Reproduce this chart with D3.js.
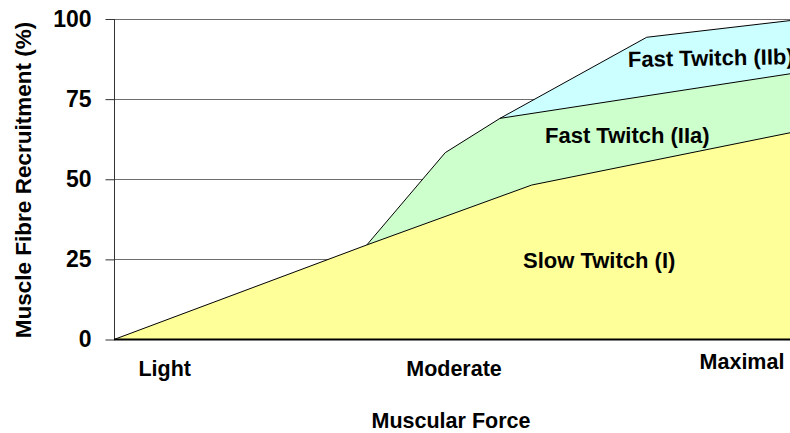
<!DOCTYPE html>
<html><head><meta charset="utf-8">
<script src="https://cdn.jsdelivr.net/npm/d3@7"></script>
<style>
html,body{margin:0;padding:0;background:#fff;}
svg text{font-family:"Liberation Sans",Arial,sans-serif;font-weight:bold;fill:#000;}
</style></head>
<body><svg id="c" width="790" height="433"></svg>
<script>
// Data
const yTicks = [0, 25, 50, 75, 100];
const categories = ["Light", "Moderate", "Maximal"];
const slowForce = [0, 37.4, 61.8, 100];
const slowPct   = [0, 29.5, 48.2, 64.5];
const iiaForce  = [37.4, 49.0, 57.1, 100];
const iiaPct    = [29.5, 58.3, 69.0, 82.9];
const iibForce  = [57.1, 78.8, 100];
const iibPct    = [69.0, 94.3, 99.5];
const seriesNames = ["Slow Twitch (I)", "Fast Twitch (IIa)", "Fast Twitch (IIb)"];

const svg = d3.select("#c");
const x = d3.scaleLinear().domain([0, 100]).range([114, 790]);
const y = d3.scaleLinear().domain([0, 100]).range([339.5, 19]);

// gridlines
svg.append("g").selectAll("line").data(yTicks.filter(d => d > 0)).join("line")
  .attr("x1", 114).attr("x2", 790)
  .attr("y1", d => Math.round(y(d)) + 0.5).attr("y2", d => Math.round(y(d)) + 0.5)
  .attr("stroke", "#6e6e6e").attr("stroke-width", 1);

const mk = (f, p) => f.map((v, i) => [v, p[i]]);
const series = [
  {pts: mk(iibForce, iibPct), fill: "#CCFFFF"},
  {pts: mk(iiaForce, iiaPct), fill: "#CCFFCC"},
  {pts: mk(slowForce, slowPct), fill: "#FFFF99"}
];
const area = d3.area().x(d => x(d[0])).y0(y(0)).y1(d => y(d[1]));
const line = d3.line().x(d => x(d[0])).y(d => y(d[1]));
svg.append("g").selectAll("path").data(series).join("path")
  .attr("d", d => area(d.pts)).attr("fill", d => d.fill);
svg.append("g").selectAll("path").data(series).join("path")
  .attr("d", d => line(d.pts)).attr("fill", "none").attr("stroke", "#000").attr("stroke-width", 1);

// y axis
const yAxis = d3.axisLeft(y).tickValues(yTicks).tickSize(9).tickPadding(14);
const ga = svg.append("g").attr("transform", "translate(114.5,0)").call(yAxis);
ga.select(".domain").attr("stroke", "#333").attr("d", `M0,${y(100)}V${y(0)}`);
ga.selectAll(".tick line").attr("stroke", "#333");
ga.selectAll(".tick text").style("font-size", "23px").attr("fill", "#000");
// x baseline
svg.append("line").attr("x1", 114).attr("x2", 790).attr("y1", y(0)).attr("y2", y(0))
  .attr("stroke", "#000").attr("stroke-width", 2);

// category labels
const catX = [7.5, 50.3, 92.9], catY = [376, 376, 369];
svg.append("g").selectAll("text").data(categories).join("text")
  .attr("x", (d, i) => x(catX[i])).attr("y", (d, i) => catY[i])
  .attr("text-anchor", "middle").style("font-size", "21.5px").text(d => d);

// series labels
const lab = [
  {t: seriesNames[0], x: 523, y: 268, r: 0},
  {t: seriesNames[1], x: 545, y: 143, r: 0},
  {t: seriesNames[2], x: 628, y: 67, r: -1}
];
svg.append("g").selectAll("text").data(lab).join("text")
  .attr("transform", d => `translate(${d.x},${d.y}) rotate(${d.r})`)
  .style("font-size", "22px").text(d => d.t);

// axis titles
svg.append("text").attr("x", 451).attr("y", 428).attr("text-anchor", "middle")
  .style("font-size", "21.5px").text("Muscular Force");
svg.append("text").attr("transform", "translate(31,180) rotate(-90)").attr("text-anchor", "middle")
  .style("font-size", "22.5px").text("Muscle Fibre Recruitment (%)");
</script></body></html>
